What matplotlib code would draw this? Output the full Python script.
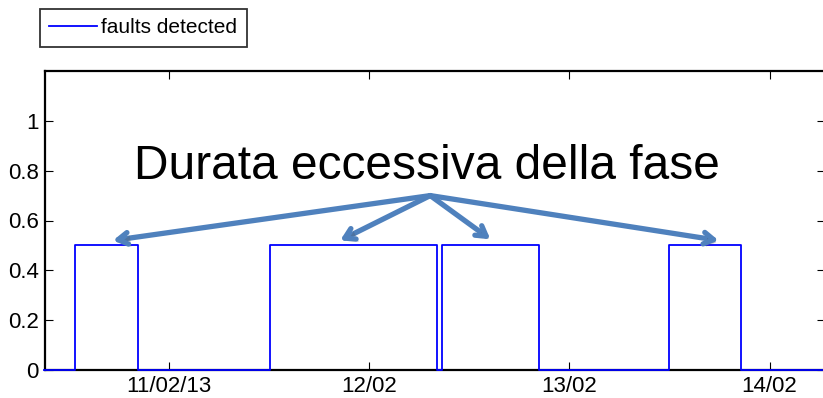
import numpy as np
import pandas as pd
import matplotlib
matplotlib.use("Agg")
import matplotlib.pyplot as plt
import matplotlib.dates as mdates
import matplotlib.patheffects as pe

# dati: istanti di cambio stato e valore del segnale
times = ["2013-02-10 09:00", "2013-02-10 12:45", "2013-02-10 20:20",
         "2013-02-11 12:07", "2013-02-12 08:06", "2013-02-12 08:42",
         "2013-02-12 20:20", "2013-02-13 11:53", "2013-02-13 20:35",
         "2013-02-14 07:00"]
faults = [0, 0.5, 0, 0.5, 0, 0.5, 0, 0.5, 0, 0]

tick_dates = ["2013-02-11", "2013-02-12", "2013-02-13", "2013-02-14"]
tick_labels = ["11/02/13", "12/02", "13/02", "14/02"]
y_ticks = [0, 0.2, 0.4, 0.6, 0.8, 1]
y_tick_labels = ["0", "0.2", "0.4", "0.6", "0.8", "1"]

# annotazione: origine frecce e punte
note_text = "Durata eccessiva della fase"
arrow_from = ("2013-02-12 07:19", 0.70)
arrow_to = [("2013-02-10 17:17", 0.52), ("2013-02-11 20:31", 0.52),
            ("2013-02-12 14:31", 0.525), ("2013-02-13 17:53", 0.52)]

t = pd.to_datetime(times)

plt.rcParams['font.family'] = ['Liberation Sans', 'DejaVu Sans']

fig = plt.figure(figsize=(8.23, 3.98), dpi=100)
ax = fig.add_axes([44.5/823, 1-370/398, 1.002-44.5/823, (370-71)/398])

line, = ax.step(t, faults, where='post', color='#0000ff', lw=1.3,
                label='faults detected', clip_on=False, zorder=3)

ax.set_xlim(pd.Timestamp("2013-02-10 09:04"), pd.Timestamp("2013-02-14 06:36"))
ax.set_ylim(0, 1.2)
ax.set_xticks(pd.to_datetime(tick_dates))
ax.set_xticklabels(tick_labels)
ax.set_yticks(y_ticks)
ax.set_yticklabels(y_tick_labels)
ax.tick_params(direction='in', length=6, width=0.8, labelsize=16,
               top=True, right=True, pad=4)
for s in ax.spines.values():
    s.set_linewidth(1.6)

# testo e frecce
ax.text(pd.Timestamp("2013-02-12 06:58"), 0.768, note_text,
        ha='center', va='baseline', fontsize=34.5)
x0 = pd.Timestamp(arrow_from[0])
for xt, yt in arrow_to:
    ax.annotate("", xy=(pd.Timestamp(xt), yt), xytext=(x0, arrow_from[1]),
                arrowprops=dict(arrowstyle='->, head_length=0.7, head_width=0.42',
                                color='#4f81bd', lw=3.8, shrinkA=0, shrinkB=0,
                                path_effects=[pe.SimplePatchShadow(offset=(2, -2), alpha=0.25),
                                              pe.Normal()]),
                zorder=4)

fig.legend(handles=[line], loc='upper left', bbox_to_anchor=(40/823, 1-9/398),
           fontsize=15, frameon=True, fancybox=False, edgecolor='black',
           handlelength=2.3, handletextpad=0.2, borderpad=0.45, borderaxespad=0)
leg = fig.legends[0]
leg.get_frame().set_linewidth(1.3)

fig.savefig("out.png", dpi=100)
